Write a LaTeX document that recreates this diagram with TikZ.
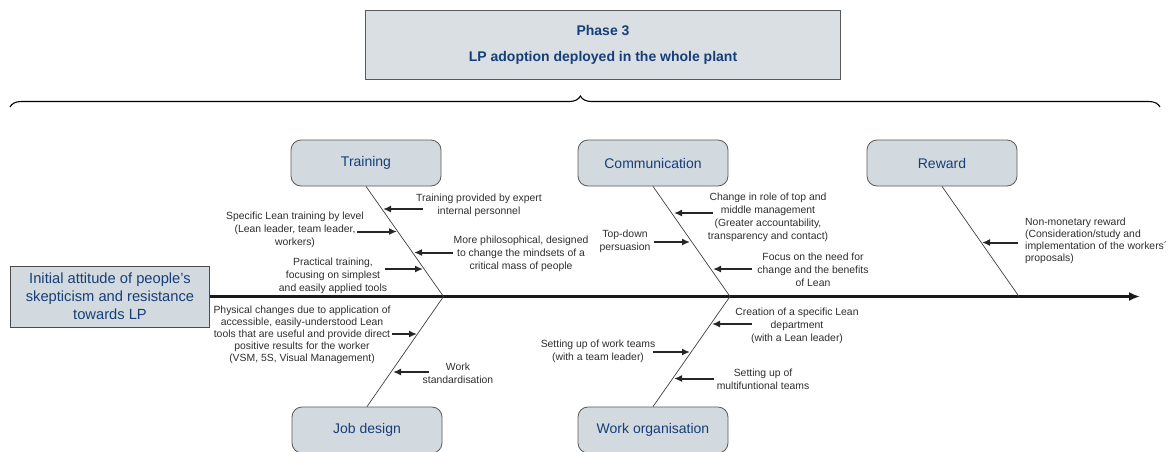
\documentclass[tikz,border=0pt]{standalone}
\usepackage{fontspec}
\setmainfont{Liberation Sans}
\usepackage{xcolor}
\usepackage{tikz}
\usetikzlibrary{arrows.meta,decorations.pathreplacing}

\definecolor{boxgray}{RGB}{210,218,223}
\definecolor{phasegray}{RGB}{217,223,227}
\definecolor{textblue}{RGB}{22,62,120}
\definecolor{notegray}{RGB}{45,45,45}

\begin{document}
\begin{tikzpicture}[
    x=1pt, y=-1pt,
    every node/.style={inner sep=0pt, align=center, text=notegray,
        font=\fontsize{10.4}{13}\selectfont},
    note arrow/.style={
        draw,
        -{Latex[length=8pt,width=7pt]}, line width=2pt, black!85
    },
    bone/.style={draw, line width=0.7pt, black!75},
    spine/.style={draw, -{Latex[length=11pt,width=9pt]}, line width=2.8pt, black!90}
]
\tikzstyle{cause} = [draw=black!65, fill=boxgray, rounded corners=10pt, line width=0.8pt, minimum width=150pt, minimum height=46pt, text=textblue, font=\fontsize{14}{17}\selectfont]
\tikzstyle{effect} = [draw=black!70, fill=boxgray, line width=0.8pt, minimum width=199pt, minimum height=61pt, text=textblue, font=\fontsize{14.7}{18}\selectfont]
\tikzstyle{phase} = [draw=black!65, fill=phasegray, line width=0.8pt, minimum width=475pt, minimum height=69pt, text=textblue, font=\bfseries\fontsize{14}{26}\selectfont]

\useasboundingbox (0,0) rectangle (1168,451);

% Phase box with the brace under it
\node[phase] (phase) at (603,45) {Phase 3\\LP adoption deployed in the whole plant};
\coordinate (braceL) at (10,107);
\coordinate (braceR) at (1160,107);
\draw[decorate, decoration={brace, amplitude=11pt, aspect=0.496}, line width=1.1pt] (braceL) -- (braceR);

% Effect box and spine
\node[effect] (start) at (110,296.5) {Initial attitude of people's\\skepticism and resistance\\towards LP};
\coordinate (head) at (1140,296.5);
\draw[spine] (start.east) -- (head);

% Cause boxes
\node[cause] (training) at (366,163) {Training};
\node[cause] (communication) at (653,163) {Communication};
\node[cause] (reward) at (942,163) {Reward};
\node[cause] (jobdesign) at (367,430) {Job design};
\node[cause] (workorg) at (653,430) {Work organisation};

% Bones meet the spine here
\coordinate (j1) at (443.5,296.5);
\coordinate (j2) at (730,296.5);
\coordinate (j3) at (1019,296.5);
\draw[bone] (training.south) -- (j1);
\draw[bone] (jobdesign.north) -- (j1);
\draw[bone] (communication.south) -- (j2);
\draw[bone] (workorg.north) -- (j2);
\draw[bone] (reward.south) -- (j3);

% Training
\node (tr1) at (479,205.5) {Training provided by expert\\internal personnel};
\node (tr2) at (295,230) {Specific Lean training by level\\(Lean leader, team leader,\\workers)};
\node (tr3) at (521,254) {More philosophical, designed\\to change the mindsets of a\\critical mass of people};
\node (tr4) at (333,276) {Practical training,\\focusing on simplest\\and easily applied tools};
\coordinate (t1) at (383,209);
\coordinate (t2) at (397,231.5);
\coordinate (t3) at (414,252.5);
\coordinate (t4) at (423,269);
\draw[note arrow] ([xshift=40]t1) -- (t1);
\draw[note arrow] ([xshift=-40]t2) -- (t2);
\draw[note arrow] ([xshift=39]t3) -- (t3);
\draw[note arrow] ([xshift=-38]t4) -- (t4);

% Communication
\node (cm1) at (768,217.5) {Change in role of top and\\middle management\\(Greater accountability,\\transparency and contact)};
\node (cm2) at (625,241.5) {Top-down\\persuasion};
\node (cm3) at (813,269.5) {Focus on the need for\\change and the benefits\\of Lean};
\coordinate (c1) at (674,213);
\coordinate (c2) at (690,242);
\coordinate (c3) at (713,269);
\draw[note arrow] ([xshift=39]c1) -- (c1);
\draw[note arrow] ([xshift=-36]c2) -- (c2);
\draw[note arrow] ([xshift=39]c3) -- (c3);

% Reward
\node[anchor=west, align=left, font=\fontsize{10.4}{12}\selectfont] (rw1) at (1025,240.5) {Non-monetary reward\\(Consideration/study and\\implementation of the workers´\\proposals)};
\coordinate (r1) at (982,242.5);
\draw[note arrow] ([xshift=36]r1) -- (r1);

% Job design
\node[font=\fontsize{10.4}{12}\selectfont] (jd1) at (302,335) {Physical changes due to application of\\accessible, easily-understood Lean\\tools that are useful and provide direct\\positive results for the worker\\(VSM, 5S, Visual Management)};
\node (jd2) at (458,373.5) {Work\\standardisation};
\coordinate (d1) at (417,334);
\coordinate (d2) at (393,372);
\draw[note arrow] ([xshift=-25]d1) -- (d1);
\draw[note arrow] ([xshift=36]d2) -- (d2);

% Work organisation
\node (wo1) at (797,325.5) {Creation of a specific Lean\\department\\(with a Lean leader)};
\node (wo2) at (598,351.5) {Setting up of work teams\\(with a team leader)};
\node (wo3) at (763,379.5) {Setting up of\\multifuntional teams};
\coordinate (w1) at (712,324);
\coordinate (w2) at (690,352);
\coordinate (w3) at (674,378.5);
\draw[note arrow] ([xshift=40]w1) -- (w1);
\draw[note arrow] ([xshift=-37]w2) -- (w2);
\draw[note arrow] ([xshift=40]w3) -- (w3);
\end{tikzpicture}
\end{document}
